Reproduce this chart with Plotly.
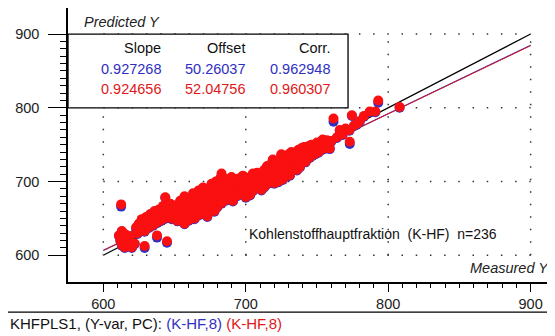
import plotly.graph_objects as go

# ---------------- data ----------------
measured_a = [611, 612, 612.5, 613, 613, 614, 615, 615, 616, 617, 618, 619, 620, 622]
pred_val_a = [627, 620, 669, 633, 614, 624, 611, 629, 618, 622, 614, 626, 611, 616]
pred_cal_a = [626, 619, 666, 632, 613, 623, 610, 628, 617, 621, 613, 625, 610, 615]

measured_b = [623, 624, 625, 626, 627, 628, 629, 629, 630, 631, 632, 633, 634, 635, 636, 637,
              637.7, 638, 639, 640, 641, 642, 643, 643.5, 644, 644.7, 645, 646, 647, 648, 649, 650]
pred_val_b = [638, 630, 643, 636, 649, 640, 612.6, 633, 652, 645, 638, 656, 648, 641, 660, 652,
              627, 645, 662, 655, 648, 667, 658, 678.7, 651, 619, 664, 656, 670, 650, 661, 654]
pred_cal_b = [635, 629, 642, 635, 648, 639, 610, 632, 651, 644, 637, 655, 647, 640, 659, 651,
              624, 644, 661, 654, 647, 666, 657, 678, 650, 617, 663, 655, 669, 649, 660, 653]

measured_c = [651, 652, 653, 654, 655, 656, 657, 657, 658, 659, 660, 660, 661, 662, 663, 663, 664, 665, 666, 667,
              667, 668, 669, 670, 670, 671, 672, 672, 673, 674, 675, 675, 676, 677, 678, 678, 679, 680, 680, 681,
              682, 682, 683, 683, 684, 685, 686, 686, 687, 688, 689, 690, 690, 691, 692, 693, 694, 695, 696, 697,
              698, 698, 699, 700, 700, 654, 658, 662, 666, 669, 673, 676, 679, 684, 688, 691, 694, 696, 665, 671, 687]
pred_val_c = [668, 647, 659, 674, 651, 663, 643, 680, 657, 669, 648, 676, 661, 654, 684, 668, 650, 673, 660, 688,
              655, 679, 665, 692, 657, 673, 683, 662, 653, 690, 676, 668, 697, 682, 660, 672, 700, 687, 666, 678,
              704, 693, 711, 671, 684, 697, 675, 689, 703, 680, 694, 686, 706, 674, 699, 689, 681, 704, 693, 686,
              708, 698, 690, 679, 703, 662, 666, 675, 668, 681, 677, 685, 680, 692, 698, 694, 697, 700, 657, 665, 686]
pred_cal_c = [667, 646, 659, 673, 650, 662, 642, 679, 656, 668, 647, 675, 660, 653, 683, 667, 649, 672, 659, 687,
              654, 678, 664, 691, 656, 672, 682, 661, 652, 689, 675, 667, 696, 681, 659, 671, 699, 686, 665, 677,
              703, 692, 708, 670, 683, 696, 674, 688, 702, 679, 693, 685, 705, 673, 698, 688, 680, 703, 692, 685,
              707, 697, 689, 678, 702, 661, 665, 674, 667, 680, 676, 684, 679, 691, 697, 693, 696, 699, 656, 664, 685]

measured_d = [701, 701, 701, 702, 703, 703, 704, 705, 705, 706, 707, 707, 708, 709, 709, 710,
              711, 711, 712, 713, 713, 714, 715, 715, 716, 717, 717, 718, 718, 719, 719, 720,
              721, 721, 722, 723, 723, 724, 725, 725, 726, 727, 727, 728, 729, 729, 730,
              731, 731, 731, 732, 733, 733, 734, 735, 735, 736, 737, 737, 738, 739, 739, 740,
              741, 741, 742, 743, 743, 744, 745, 745, 745, 746, 747, 747, 748, 749, 749, 750,
              751, 751, 752, 753, 753, 754, 755, 755, 756, 757, 757, 758, 759, 760]
pred_val_d = [684, 697, 705, 690, 682, 700, 706, 688, 711, 698, 703, 693, 712, 698, 706, 694,
              702, 689, 709, 693, 716, 703, 697, 721, 708, 715, 702, 724, 699, 710, 730, 698,
              726, 705, 713, 700, 720, 730, 716, 737, 703, 734, 712, 720, 708, 728, 737,
              724, 709, 716, 740, 718, 735, 727, 738, 722, 716, 743, 726, 720, 745, 729, 738,
              733, 747, 727, 736, 731, 748, 733, 744, 740, 750, 736, 745, 742, 738, 747, 753,
              740, 749, 746, 743, 751, 757, 745, 753, 750, 756, 747, 752, 745, 755]
pred_cal_d = [683, 696, 704, 689, 681, 699, 705, 687, 710, 697, 702, 692, 711, 697, 705, 693,
              701, 688, 708, 692, 715, 702, 696, 720, 707, 714, 701, 723, 698, 709, 729, 697,
              725, 704, 712, 699, 719, 729, 715, 736, 702, 733, 711, 719, 707, 727, 736,
              723, 708, 715, 739, 717, 734, 726, 737, 721, 715, 742, 725, 719, 744, 728, 737,
              732, 746, 726, 735, 730, 747, 732, 743, 739, 749, 735, 744, 741, 737, 746, 752,
              739, 748, 745, 742, 750, 756, 744, 752, 749, 755, 746, 751, 744, 754]

measured_e = [761.6, 764, 766, 768, 770, 772.8, 773, 774.5, 776, 778, 780, 783, 787, 791, 793, 808]
pred_val_e = [785.5, 760, 770, 764, 772, 770, 754, 790, 776, 778, 782, 789, 795, 795, 810, 801]
pred_cal_e = [781, 759, 769, 763, 771, 769, 751, 789, 775, 777, 781, 788, 794, 794, 807, 800]

measured = measured_a + measured_b + measured_c + measured_d + measured_e
pred_val = pred_val_a + pred_val_b + pred_val_c + pred_val_d + pred_val_e
pred_cal = pred_cal_a + pred_cal_b + pred_cal_c + pred_cal_d + pred_cal_e

stat_headers = ["Slope", "Offset", "Corr."]
stats_cal = ["0.927268", "50.26037", "0.962948"]
stats_val = ["0.924656", "52.04756", "0.960307"]
slope_cal, offset_cal = 0.927268, 50.26037
slope_val, offset_val = 0.924656, 52.04756
line_x = [600, 900]
grid_vals = [600, 700, 800, 900]
x_range = [575.2, 917.1]
y_range = [563.8, 935.3]

BLUE = "#2f2fc4"
RED = "#e01818"
MARK_RED = "#fa1010"
FONT = "Liberation Sans, Arial, sans-serif"

fig = go.Figure()

# target line and regression lines (under the points)
fig.add_trace(go.Scatter(x=line_x, y=line_x, mode="lines",
                         line=dict(color="white", width=3), hoverinfo="skip", showlegend=False))
fig.add_trace(go.Scatter(x=line_x, y=[slope_val * v + offset_val for v in line_x], mode="lines",
                         line=dict(color="white", width=3), hoverinfo="skip", showlegend=False))
fig.add_trace(go.Scatter(x=line_x, y=line_x, mode="lines",
                         line=dict(color="black", width=1.2), hoverinfo="skip", showlegend=False))
fig.add_trace(go.Scatter(x=line_x, y=[slope_cal * v + offset_cal for v in line_x], mode="lines",
                         line=dict(color=BLUE, width=1.2), hoverinfo="skip", showlegend=False))
fig.add_trace(go.Scatter(x=line_x, y=[slope_val * v + offset_val for v in line_x], mode="lines",
                         line=dict(color=RED, width=1), hoverinfo="skip", showlegend=False))

fig.add_trace(go.Scatter(x=measured, y=pred_cal, mode="markers",
                         marker=dict(size=10, color=BLUE, line=dict(width=0)),
                         hoverinfo="skip", showlegend=False))
fig.add_trace(go.Scatter(x=measured, y=pred_val, mode="markers",
                         marker=dict(size=10, color=MARK_RED, line=dict(width=0)),
                         hoverinfo="skip", showlegend=False))

shapes = []
for v in grid_vals:
    shapes.append(dict(type="line", xref="x", yref="y", x0=v, x1=v, y0=600, y1=900, layer="below",
                       line=dict(color="#333333", width=1.5, dash="1.5px,11px")))
    shapes.append(dict(type="line", xref="x", yref="y", x0=600, x1=900, y0=v, y1=v, layer="below",
                       line=dict(color="#333333", width=1.5, dash="1.5px,12.7px")))
# statistics box
shapes.append(dict(type="rect", xref="x", yref="y", x0=x_range[0], x1=771.8, y0=800, y1=900,
                   layer="below", fillcolor="white", line=dict(color="black", width=1.3)))
# footer separator
shapes.append(dict(type="line", xref="paper", yref="paper", x0=-0.1232, x1=1, y0=-0.1096, y1=-0.1096,
                   line=dict(color="black", width=1.3)))

annotations = []
col_x = [641.9, 700.9, 760.3]
row_y = [881, 852.5, 825.3]
for i in range(3):
    annotations.append(dict(x=col_x[i], y=row_y[0], text=stat_headers[i], xanchor="right", yanchor="middle",
                            showarrow=False, font=dict(family=FONT, size=14.5, color="#111111")))
    annotations.append(dict(x=col_x[i], y=row_y[1], text=stats_cal[i], xanchor="right", yanchor="middle",
                            showarrow=False, font=dict(family=FONT, size=14.5, color=BLUE)))
    annotations.append(dict(x=col_x[i], y=row_y[2], text=stats_val[i], xanchor="right", yanchor="middle",
                            showarrow=False, font=dict(family=FONT, size=14.5, color=RED)))

annotations.append(dict(x=584.8, y=916.7, text="<i>Predicted Y</i>", xanchor="left", yanchor="middle",
                        showarrow=False, font=dict(family=FONT, size=14.5, color="#222222")))
annotations.append(dict(x=914.6, y=583.3, text="<i>Measured Y</i>", xanchor="right", yanchor="middle",
                        showarrow=False, font=dict(family=FONT, size=14.5, color="#222222")))
annotations.append(dict(x=700.6, y=629.5,
                        text="Kohlenstoffhauptfraktion\u00a0\u00a0(K-HF)\u00a0\u00a0n=236",
                        xanchor="left", yanchor="middle", showarrow=False,
                        font=dict(family=FONT, size=14, color="#111111")))
annotations.append(dict(xref="paper", yref="paper", x=-0.1232, y=-0.152,
                        text=("KHFPLS1, (Y-var, PC): "
                              f"<span style='color:{BLUE}'>(K-HF,8)</span> "
                              f"<span style='color:{RED}'>(K-HF,8)</span>"),
                        xanchor="left", yanchor="middle", showarrow=False,
                        font=dict(family=FONT, size=15, color="#111111")))

minor_vals = [v for v in range(600, 901, 10) if v % 100 != 0]

fig.update_layout(
    width=547, height=328,
    margin=dict(l=60, r=0, t=0, b=54.3, pad=0),
    paper_bgcolor="white", plot_bgcolor="white",
    shapes=shapes, annotations=annotations,
    font=dict(family=FONT, size=14, color="#222222"),
    xaxis=dict(range=x_range, showgrid=False, zeroline=False, showline=True, linecolor="black",
               linewidth=1.5, tickmode="array", tickvals=grid_vals, ticks="outside", ticklen=8,
               tickwidth=1.3, tickcolor="black", tickfont=dict(family=FONT, size=14.5, color="#222222"),
               minor=dict(tickmode="array", tickvals=minor_vals, ticks="outside", ticklen=4,
                          tickwidth=1, tickcolor="black", showgrid=False),
               fixedrange=True),
    yaxis=dict(range=y_range, showgrid=False, zeroline=False, showline=True, linecolor="black",
               linewidth=1.5, tickmode="array", tickvals=grid_vals, ticks="outside", ticklen=18,
               tickwidth=1.3, tickcolor="black", ticklabelstandoff=6,
               tickfont=dict(family=FONT, size=14.5, color="#222222"),
               minor=dict(tickmode="array", tickvals=minor_vals, ticks="outside", ticklen=6,
                          tickwidth=1, tickcolor="black", showgrid=False),
               fixedrange=True),
)

fig.write_html("out.html")
